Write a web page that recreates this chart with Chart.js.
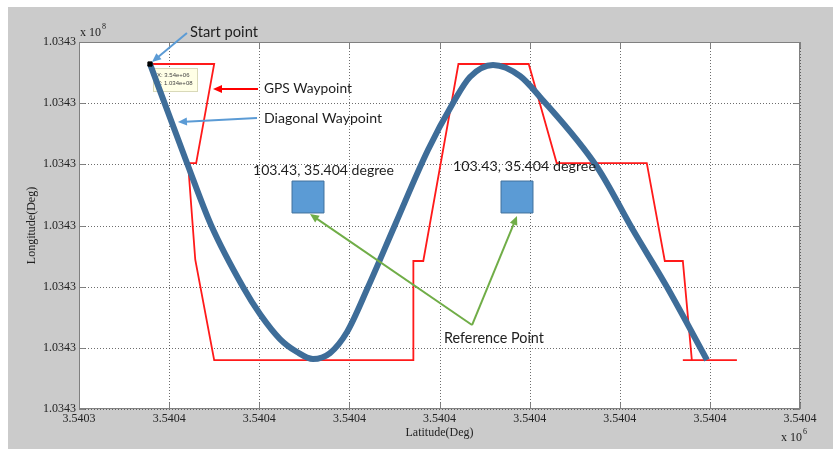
<!DOCTYPE html>
<html><head><meta charset="utf-8">
<script src="https://cdn.jsdelivr.net/npm/chart.js@4"></script>
<style>html,body{margin:0;padding:0;background:#fff;overflow:hidden}#wrap{width:833px;height:449px}</style>
</head><body><div id="wrap"><canvas id="c" width="833" height="449"></canvas></div>
<script>
// Tick labels (axis values in grid units: x 0..8, y 0..6)
const xTickLabels = ['3.5403','3.5404','3.5404','3.5404','3.5404','3.5404','3.5404','3.5404','3.5404'];
const yTickLabels = ['1.0343','1.0343','1.0343','1.0343','1.0343','1.0343','1.0343'];

// GPS waypoint path (red)
const gpsX = [0.81, 1.50, 1.30, 1.21, 1.29, 1.50, 3.71, 3.71, 3.82, 4.21, 4.99, 5.30, 6.30, 6.50, 6.70, 6.80, 6.70, 7.30];
const gpsY = [5.64, 5.64, 4.02, 4.02, 2.44, 0.80, 0.80, 2.42, 2.42, 5.64, 5.64, 4.02, 4.02, 2.42, 2.42, 0.80, 0.80, 0.80];

// Diagonal waypoint path (blue)
const diagX = [0.788, 1.198, 1.465, 1.820, 2.008, 2.230, 2.419, 2.596, 2.785, 2.974, 3.207, 3.506, 3.872, 4.150, 4.338, 4.594, 4.893, 5.115, 5.748, 6.147, 6.524, 6.968];
const diagY = [5.640, 4.022, 3.008, 1.994, 1.553, 1.144, 0.932, 0.817, 0.915, 1.259, 1.994, 3.008, 4.234, 5.002, 5.428, 5.624, 5.444, 5.101, 3.956, 2.926, 1.994, 0.801];

// Start point marker
const startX = [0.788];
const startY = [5.640];

// Reference points
const refX = [2.541, 4.860];
const refY = [3.466, 3.466];

const toPts = (xs, ys) => xs.map((x, i) => ({x, y: ys[i]}));

const annoTexts = [
  {t:'Start point', x:1.232, y:6.163, w:68},
  {t:'GPS Waypoint', x:2.053, y:5.231, w:88},
  {t:'Diagonal Waypoint', x:2.053, y:4.757, w:118},
  {t:'103.43, 35.404 degree', x:1.931, y:3.907, w:141},
  {t:'103.43, 35.404 degree', x:4.150, y:3.973, w:143},
  {t:'Reference Point', x:4.050, y:1.161, w:100}
];
const annoArrows = [
  {x1:1.198, y1:6.147, x2:0.810, y2:5.673, c:'#5B9BD5'},
  {x1:1.986, y1:5.231, x2:1.487, y2:5.231, c:'#FF0000'},
  {x1:1.975, y1:4.757, x2:1.098, y2:4.692, c:'#5B9BD5'},
  {x1:4.361, y1:1.373, x2:2.563, y2:3.188, c:'#70AD47'},
  {x1:4.361, y1:1.373, x2:4.860, y2:3.155, c:'#70AD47'}
];

function arrow(ctx, x1, y1, x2, y2, color) {
  const ang = Math.atan2(y2 - y1, x2 - x1);
  const hl = 9, hw = 4;
  ctx.save();
  ctx.strokeStyle = color; ctx.fillStyle = color; ctx.lineWidth = 2;
  ctx.beginPath(); ctx.moveTo(x1, y1);
  ctx.lineTo(x2 - Math.cos(ang) * hl * 0.8, y2 - Math.sin(ang) * hl * 0.8); ctx.stroke();
  ctx.beginPath();
  ctx.moveTo(x2, y2);
  ctx.lineTo(x2 - Math.cos(ang) * hl - Math.sin(ang) * hw, y2 - Math.sin(ang) * hl + Math.cos(ang) * hw);
  ctx.lineTo(x2 - Math.cos(ang) * hl + Math.sin(ang) * hw, y2 - Math.sin(ang) * hl - Math.cos(ang) * hw);
  ctx.closePath(); ctx.fill();
  ctx.restore();
}

const figPlugin = {
  id: 'fig',
  beforeDraw(chart) {
    const {ctx, chartArea: a} = chart;
    ctx.save();
    ctx.fillStyle = '#ffffff'; ctx.fillRect(0, 0, chart.width, chart.height);
    ctx.fillStyle = '#CBCBCB'; ctx.fillRect(8, 7, chart.width - 8, chart.height - 7);
    ctx.fillStyle = '#ffffff'; ctx.fillRect(a.left, a.top, a.right - a.left, a.bottom - a.top);
    ctx.restore();
  },
  beforeDatasetsDraw(chart) {
    const {ctx, chartArea: a, scales: {x, y}} = chart;
    ctx.save();
    ctx.strokeStyle = 'rgba(60,60,60,0.75)'; ctx.lineWidth = 1; ctx.setLineDash([1, 2]);
    x.ticks.forEach(t => { const px = Math.round(x.getPixelForValue(t.value)) + 0.5;
      ctx.beginPath(); ctx.moveTo(px, a.top); ctx.lineTo(px, a.bottom); ctx.stroke(); });
    y.ticks.forEach(t => { const py = Math.round(y.getPixelForValue(t.value)) + 0.5;
      ctx.beginPath(); ctx.moveTo(a.left, py); ctx.lineTo(a.right, py); ctx.stroke(); });
    ctx.setLineDash([]);
    // data tip box
    const mx = x.getPixelForValue(startX[0]), my = y.getPixelForValue(startY[0]);
    ctx.fillStyle = '#FFFFE6'; ctx.strokeStyle = '#D9D9B8'; ctx.lineWidth = 1;
    ctx.fillRect(mx + 3, my + 4, 44, 23); ctx.strokeRect(mx + 3.5, my + 4.5, 44, 23);
    ctx.fillStyle = '#444'; ctx.font = '6px "Liberation Sans"'; ctx.textBaseline = 'middle';
    ctx.fillText('X: 3.54e+06', mx + 7, my + 11);
    ctx.fillText('Y: 1.034e+08', mx + 7, my + 19);
    ctx.restore();
  },
  afterDatasetsDraw(chart) {
    const {ctx, chartArea: a, scales: {x, y}} = chart;
    ctx.save();
    // frame
    ctx.strokeStyle = '#808080'; ctx.lineWidth = 1;
    ctx.strokeRect(a.left + 0.5, a.top + 0.5, a.right - a.left - 1, a.bottom - a.top - 1);
    // inward ticks
    ctx.beginPath();
    x.ticks.forEach(t => { const px = Math.round(x.getPixelForValue(t.value)) + 0.5;
      ctx.moveTo(px, a.bottom); ctx.lineTo(px, a.bottom - 6);
      ctx.moveTo(px, a.top); ctx.lineTo(px, a.top + 6); });
    y.ticks.forEach(t => { const py = Math.round(y.getPixelForValue(t.value)) + 0.5;
      ctx.moveTo(a.left, py); ctx.lineTo(a.left + 6, py);
      ctx.moveTo(a.right, py); ctx.lineTo(a.right - 6, py); });
    ctx.stroke();
    // axis titles and exponents
    ctx.fillStyle = '#222'; ctx.textBaseline = 'middle'; ctx.textAlign = 'center';
    ctx.font = '12px "Liberation Serif"';
    ctx.fillText('Latitude(Deg)', (a.left + a.right) / 2, 433);
    ctx.save(); ctx.translate(32, (a.top + a.bottom) / 2); ctx.rotate(-Math.PI / 2);
    ctx.fillText('Longitude(Deg)', 0, 0); ctx.restore();
    ctx.textAlign = 'left';
    ctx.fillText('x 10', a.left + 1, a.top - 9);
    ctx.font = '8px "Liberation Serif"'; ctx.fillText('8', a.left + 23, a.top - 15);
    ctx.font = '12px "Liberation Serif"';
    ctx.fillText('x 10', a.right - 19, 438);
    ctx.font = '8px "Liberation Serif"'; ctx.fillText('6', a.right + 3, 432);
    // annotation arrows
    annoArrows.forEach(r => arrow(ctx, x.getPixelForValue(r.x1), y.getPixelForValue(r.y1),
      x.getPixelForValue(r.x2), y.getPixelForValue(r.y2), r.c));
    // annotation texts
    ctx.fillStyle = '#1e1e1e'; ctx.textAlign = 'left'; ctx.textBaseline = 'middle';
    annoTexts.forEach(o => {
      ctx.font = '100px Lato';
      const m = ctx.measureText(o.t).width;
      const size = 100 * o.w / m;
      ctx.font = size.toFixed(2) + 'px Lato';
      ctx.fillText(o.t, x.getPixelForValue(o.x), y.getPixelForValue(o.y));
    });
    ctx.restore();
  }
};

const tickFont = {family: 'Liberation Serif', size: 12};
new Chart(document.getElementById('c'), {
  type: 'scatter',
  data: {
    datasets: [
      {data: toPts(startX, startY), pointStyle: 'rect', pointRadius: 3, backgroundColor: '#000', borderColor: '#000', showLine: false},
      {data: toPts(diagX, diagY), showLine: true, borderColor: '#3E6D99', borderWidth: 6, pointRadius: 0,
       cubicInterpolationMode: 'monotone', borderJoinStyle: 'round', fill: false},
      {data: toPts(gpsX, gpsY), showLine: true, borderColor: '#FF1A1A', borderWidth: 1.8, pointRadius: 0, tension: 0, fill: false},
      {data: toPts(refX, refY), pointStyle: 'rect', pointRadius: 22.6, backgroundColor: '#5B9BD5', borderColor: '#41719C', borderWidth: 1, showLine: false}
    ]
  },
  options: {
    responsive: false, devicePixelRatio: 1, animation: false,
    layout: {padding: {left: 0, right: 33, top: 42, bottom: 0}},
    plugins: {legend: {display: false}, tooltip: {enabled: false}},
    scales: {
      x: {type: 'linear', min: 0, max: 8,
          afterBuildTicks: s => { s.ticks = xTickLabels.map((_, i) => ({value: i})); },
          afterFit: s => { s.height = 40; },
          ticks: {autoSkip: false, maxRotation: 0, padding: 3, font: tickFont, color: '#222',
                  callback: (v, i) => xTickLabels[i]},
          grid: {display: false, drawTicks: false, tickLength: 0}, border: {display: false}},
      y: {type: 'linear', min: 0, max: 6,
          afterBuildTicks: s => { s.ticks = yTickLabels.map((_, i) => ({value: i})); },
          afterFit: s => { s.width = 79; },
          ticks: {autoSkip: false, padding: 3, font: tickFont, color: '#222',
                  callback: (v, i) => yTickLabels[i]},
          grid: {display: false, drawTicks: false, tickLength: 0}, border: {display: false}}
    }
  },
  plugins: [figPlugin]
});
</script></body></html>
